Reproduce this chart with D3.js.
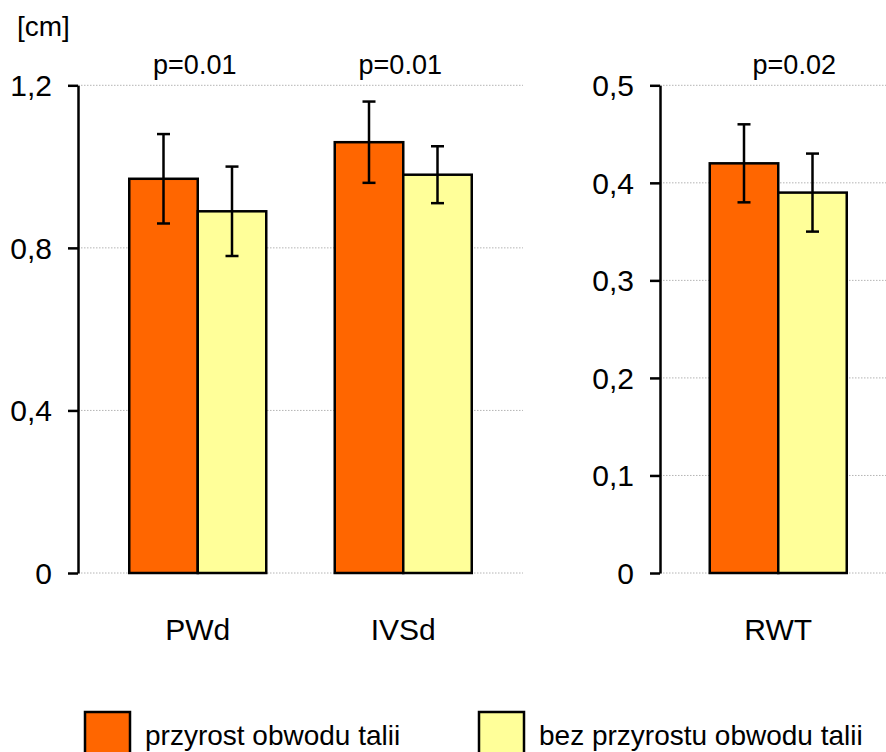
<!DOCTYPE html>
<html>
<head>
<meta charset="utf-8">
<script src="https://cdn.jsdelivr.net/npm/d3@7/dist/d3.min.js"></script>
<style>
  html, body { margin: 0; padding: 0; background: #fff; }
  svg { display: block; font-family: "Liberation Sans", Arial, Helvetica, sans-serif; }
</style>
</head>
<body>
<svg id="chart" width="886" height="752"></svg>
<script>
// Series and groups
const seriesNames = ["przyrost obwodu talii", "bez przyrostu obwodu talii"];
const seriesColors = ["#ff6600", "#ffff99"];

// Left panel: wall thickness [cm]
const leftCategories = ["PWd", "IVSd"];
const leftGrowth = [0.97, 1.06];
const leftGrowthLow = [0.86, 0.96];
const leftGrowthHigh = [1.08, 1.16];
const leftNoGrowth = [0.89, 0.98];
const leftNoGrowthLow = [0.78, 0.91];
const leftNoGrowthHigh = [1.00, 1.05];
const leftPValues = ["p=0.01", "p=0.01"];
const leftTicks = [0, 0.4, 0.8, 1.2];
const leftTickLabels = ["0", "0,4", "0,8", "1,2"];

// Right panel: relative wall thickness
const rightCategories = ["RWT"];
const rightGrowth = [0.42];
const rightGrowthLow = [0.38];
const rightGrowthHigh = [0.46];
const rightNoGrowth = [0.39];
const rightNoGrowthLow = [0.35];
const rightNoGrowthHigh = [0.43];
const rightPValues = ["p=0.02"];
const rightTicks = [0, 0.1, 0.2, 0.3, 0.4, 0.5];
const rightTickLabels = ["0", "0,1", "0,2", "0,3", "0,4", "0,5"];

const unitLabel = "[cm]";

const svg = d3.select("#chart");
const FF = "'Liberation Sans', Arial, sans-serif";
const yTop = 85.3, yBottom = 573;
const LW = 2.5;

function panel(opts) {
  const g = svg.append("g");
  const y = d3.scaleLinear().domain(opts.domain).range([yBottom, yTop]);
  const x = d3.scaleBand().domain(opts.categories).range(opts.bandRange);
  const sub = d3.scaleBand().domain(seriesNames).range([0, 137]);

  // dotted gridlines
  g.append("g").selectAll("line").data(opts.ticks).join("line")
    .attr("x1", opts.axisX).attr("x2", opts.gridEnd)
    .attr("y1", d => y(d)).attr("y2", d => y(d))
    .attr("stroke", "#b4b4b4").attr("stroke-width", 1)
    .attr("stroke-dasharray", "1.5,1.5");

  // y axis
  const axis = d3.axisLeft(y).tickValues(opts.ticks)
    .tickFormat((d, i) => opts.tickLabels[i]).tickSize(10).tickSizeOuter(0).tickPadding(16);
  const ag = g.append("g").attr("transform", `translate(${opts.axisX},0)`).call(axis)
    .attr("font-size", 30).attr("font-family", FF);
  ag.select(".domain").attr("stroke", "#000").attr("stroke-width", LW);
  ag.selectAll(".tick line").attr("stroke", "#000").attr("stroke-width", LW);
  ag.selectAll(".tick text").attr("fill", "#000").attr("dy", "0.35em");

  const rows = opts.categories.map((c, i) => ({
    cat: c,
    vals: [
      { s: seriesNames[0], v: opts.a[i], lo: opts.aLo[i], hi: opts.aHi[i], color: seriesColors[0] },
      { s: seriesNames[1], v: opts.b[i], lo: opts.bLo[i], hi: opts.bHi[i], color: seriesColors[1] }
    ],
    p: opts.p[i]
  }));

  const groups = g.append("g").selectAll("g").data(rows).join("g")
    .attr("transform", d => `translate(${x(d.cat) + x.bandwidth() / 2 - 68.5},0)`);

  groups.selectAll("rect").data(d => d.vals).join("rect")
    .attr("x", d => sub(d.s)).attr("width", sub.bandwidth())
    .attr("y", d => y(d.v)).attr("height", d => y(0) - y(d.v))
    .attr("fill", d => d.color).attr("stroke", "#000").attr("stroke-width", LW);

  // error bars
  const eb = groups.selectAll("g.err").data(d => d.vals).join("g").attr("class", "err")
    .attr("transform", d => `translate(${sub(d.s) + sub.bandwidth() / 2},0)`);
  eb.append("line").attr("x1", 0).attr("x2", 0)
    .attr("y1", d => y(d.lo)).attr("y2", d => y(d.hi))
    .attr("stroke", "#000").attr("stroke-width", LW);
  eb.selectAll("line.cap").data(d => [d.lo, d.hi]).join("line").attr("class", "cap")
    .attr("x1", -6.5).attr("x2", 6.5)
    .attr("y1", d => y(d)).attr("y2", d => y(d))
    .attr("stroke", "#000").attr("stroke-width", LW);

  // p-value labels
  groups.append("text")
    .attr("x", 68.5 + opts.pShift).attr("y", 74)
    .attr("text-anchor", "middle").attr("font-size", 27).attr("fill", "#000")
    .text(d => d.p);

  // category labels
  groups.append("text")
    .attr("x", 68.5).attr("y", 640)
    .attr("text-anchor", "middle").attr("font-size", 30).attr("fill", "#000")
    .text(d => d.cat);
}

panel({
  categories: leftCategories, domain: [0, 1.2], ticks: leftTicks, tickLabels: leftTickLabels,
  a: leftGrowth, aLo: leftGrowthLow, aHi: leftGrowthHigh,
  b: leftNoGrowth, bLo: leftNoGrowthLow, bHi: leftNoGrowthHigh,
  p: leftPValues, axisX: 78, gridEnd: 523, bandRange: [95, 506], pShift: -3
});

panel({
  categories: rightCategories, domain: [0, 0.5], ticks: rightTicks, tickLabels: rightTickLabels,
  a: rightGrowth, aLo: rightGrowthLow, aHi: rightGrowthHigh,
  b: rightNoGrowth, bLo: rightNoGrowthLow, bHi: rightNoGrowthHigh,
  p: rightPValues, axisX: 660, gridEnd: 886, bandRange: [675.5, 881], pShift: 16
});

// unit label
svg.append("text").attr("x", 17).attr("y", 36)
  .attr("font-size", 28).attr("fill", "#000").text(unitLabel);

// legend
const legendX = [85, 479];
const leg = svg.append("g").selectAll("g").data(seriesNames).join("g")
  .attr("transform", (d, i) => `translate(${legendX[i]},712)`);
leg.append("rect").attr("width", 45).attr("height", 46)
  .attr("fill", (d, i) => seriesColors[i]).attr("stroke", "#000").attr("stroke-width", LW);
leg.append("text").attr("x", 60).attr("y", 33)
  .attr("font-size", 28).attr("fill", "#000").text(d => d);
</script>
</body>
</html>
